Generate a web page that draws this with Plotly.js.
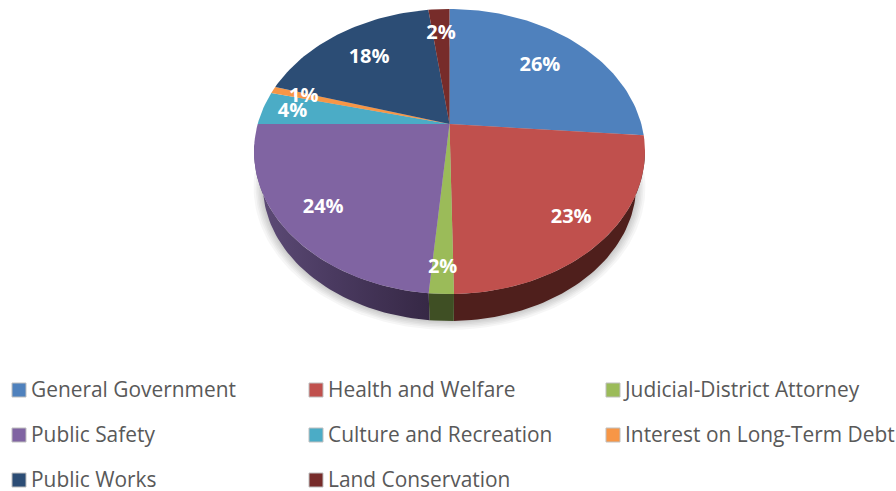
<!DOCTYPE html>
<html>
<head>
<meta charset="utf-8">
<script src="https://cdn.plot.ly/plotly-3.0.1.min.js"></script>
<style>html,body{margin:0;padding:0;background:#fff}#chart{width:896px;height:491px}</style>
</head>
<body>
<div id="chart"></div>
<script>
const categories = ["General Government","Health and Welfare","Judicial-District Attorney","Public Safety","Culture and Recreation","Interest on Long-Term Debt","Public Works","Land Conservation"];
const values = [26.3,23.4,1.7,23.6,3.8,0.8,18.3,2.1];
const percentLabels = ["26%","23%","2%","24%","4%","1%","18%","2%"];
const topColors = ["#4F81BD","#C0504D","#9BBB59","#8064A2","#4BACC6","#F79646","#2C4D75","#772C2A"];
const wallColors = ["#27405E","#4F1F1C","#3F4F24","#3C2D4E","#25566A","#7B4B23","#16263A","#3B1615"];
const labelRadius = [0.70,0.82,0.865,0.80,0.84,0.82,0.713,0.77];

// Perspective view of the flat disc, in page pixels
const view = {cx:449.5, cy:124, A:191.8, B:137.2, k:0.193};
const wall = {scale:0.955, cy:158.6, from:100, to:262};

function project(deg, r, s, cy) {
  const a = deg*Math.PI/180, u = r*Math.sin(a), v = r*Math.cos(a), w = 1+view.k*v;
  return [view.cx + s*view.A*u/w, cy - s*view.B*v/w];
}
const total = values.reduce((a,b)=>a+b,0);
let run = 0;
const slices = values.map(v=>{const s={a0:run/total*360,a1:(run+v)/total*360};run+=v;return s;});
function arc(a0,a1,r,s,cy){
  const n = Math.max(2,Math.ceil((a1-a0)/1.5)), out=[];
  for(let i=0;i<=n;i++) out.push(project(a0+(a1-a0)*i/n,r,s,cy));
  return out;
}
const traces = [];
function poly(pts,extra){
  traces.push(Object.assign({type:"scatter",mode:"lines",x:pts.map(p=>p[0]),y:pts.map(p=>p[1]),fill:"toself",line:{width:0},hoverinfo:"skip",showlegend:false},extra));
}
// soft shadow
[9,7,5.5,4,2.5,1.2].forEach(g=>{
  const s = wall.scale+g/190;
  const pts = arc(0,360,1,s,wall.cy+g*0.1);
  poly(pts,{fillcolor:"rgba(0,0,0,0.035)"});
});
// side walls
slices.forEach((sl,i)=>{
  const a0=Math.max(sl.a0,wall.from), a1=Math.min(sl.a1,wall.to);
  if(a1<=a0) return;
  const pts = arc(a0,a1,1,1,view.cy).concat(arc(a0,a1,1,wall.scale,wall.cy).reverse());
  const extra = {fillcolor:wallColors[i]};
  if(i===3) extra.fillgradient={type:"horizontal",colorscale:[[0,"#5E4C78"],[0.45,"#4A3A60"],[1,"#362845"]]};
  poly(pts,extra);
});
// top faces
slices.forEach((sl,i)=>{
  const pts=[[view.cx,view.cy]].concat(arc(sl.a0,sl.a1,1,1,view.cy));
  pts.push([view.cx,view.cy]);
  poly(pts,{fillcolor:topColors[i],name:categories[i]});
});
// percent labels
const lab = slices.map((sl,i)=>project((sl.a0+sl.a1)/2,labelRadius[i],1,view.cy));
traces.push({type:"scatter",mode:"text",x:lab.map(p=>p[0]),y:lab.map(p=>p[1]+1.5),
  text:percentLabels,textposition:"middle center",
  textfont:{family:"Open Sans, sans-serif",size:20,color:"#FFFFFF",weight:700},hoverinfo:"skip",showlegend:false});
// legend, filled row by row in three columns
const legendX=[19,316,613], legendY=[390,435,480];
const lx=categories.map((c,i)=>legendX[i%3]), ly=categories.map((c,i)=>legendY[Math.floor(i/3)]);
traces.push({type:"scatter",mode:"markers",x:lx,y:ly,marker:{symbol:"square",size:14,color:topColors,line:{width:1,color:"#BFBFBF"}},hoverinfo:"skip",showlegend:false});
traces.push({type:"scatter",mode:"text",x:lx.map(x=>x+12),y:ly.map(y=>y+1.5),text:categories,textposition:"middle right",
  textfont:{family:"Open Sans, sans-serif",size:20.9,color:"#595959"},hoverinfo:"skip",showlegend:false});

Plotly.newPlot("chart",traces,{
  width:896,height:491,margin:{l:0,r:0,t:0,b:0},paper_bgcolor:"#fff",plot_bgcolor:"#fff",showlegend:false,
  xaxis:{range:[0,896],visible:false,fixedrange:true},
  yaxis:{range:[491,0],visible:false,fixedrange:true}
},{displayModeBar:false,staticPlot:true});
</script>
</body>
</html>
